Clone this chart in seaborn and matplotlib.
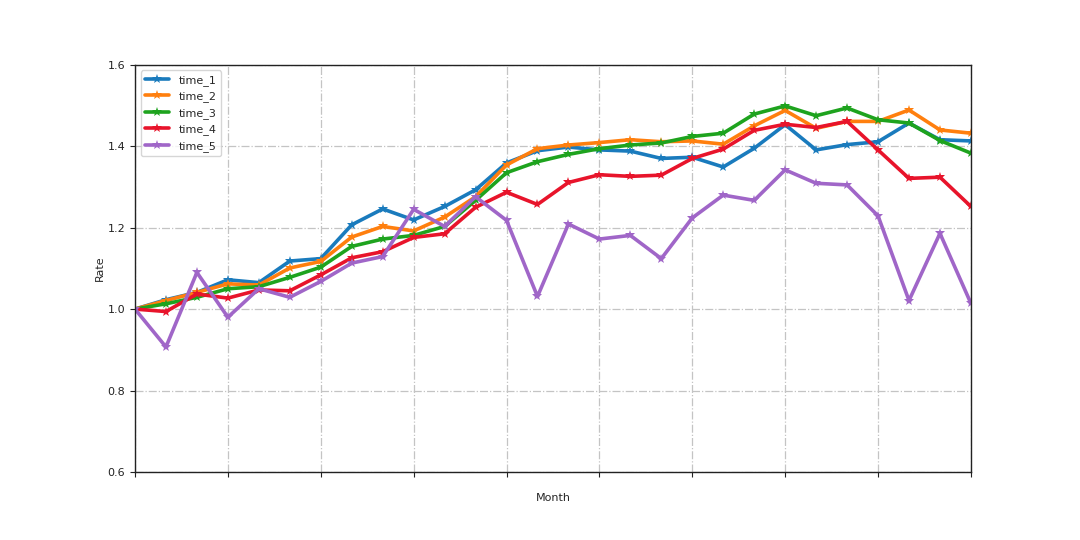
import numpy as np
import pandas as pd
import matplotlib
matplotlib.use("Agg")
import matplotlib.pyplot as plt
import seaborn as sns

months = list(range(28))
time_1 = [1.000, 1.023, 1.041, 1.072, 1.065, 1.118, 1.124, 1.207, 1.246, 1.219,
          1.252, 1.293, 1.359, 1.389, 1.398, 1.391, 1.388, 1.370, 1.373, 1.349,
          1.395, 1.453, 1.391, 1.404, 1.411, 1.457, 1.416, 1.413]
time_2 = [1.000, 1.021, 1.041, 1.062, 1.059, 1.101, 1.117, 1.177, 1.203, 1.192,
          1.226, 1.276, 1.354, 1.394, 1.403, 1.409, 1.416, 1.411, 1.413, 1.405,
          1.450, 1.488, 1.444, 1.461, 1.461, 1.489, 1.440, 1.432]
time_3 = [1.000, 1.013, 1.029, 1.050, 1.055, 1.078, 1.103, 1.154, 1.172, 1.181,
          1.203, 1.267, 1.335, 1.362, 1.380, 1.394, 1.403, 1.408, 1.424, 1.432,
          1.479, 1.499, 1.475, 1.494, 1.465, 1.457, 1.414, 1.383]
time_4 = [1.000, 0.994, 1.037, 1.027, 1.047, 1.045, 1.084, 1.126, 1.141, 1.176,
          1.185, 1.250, 1.287, 1.257, 1.311, 1.330, 1.326, 1.329, 1.370, 1.393,
          1.439, 1.454, 1.446, 1.461, 1.391, 1.321, 1.324, 1.252]
time_5 = [1.000, 0.907, 1.090, 0.980, 1.050, 1.029, 1.068, 1.113, 1.129, 1.245,
          1.203, 1.276, 1.218, 1.031, 1.209, 1.172, 1.181, 1.124, 1.224, 1.280,
          1.267, 1.342, 1.309, 1.305, 1.229, 1.021, 1.186, 1.014]
series_names = ["time_1", "time_2", "time_3", "time_4", "time_5"]
colors = ["#1a7bbd", "#ff7f0e", "#1ea31e", "#e8142b", "#a066c8"]

series = [time_1, time_2, time_3, time_4, time_5]
df = pd.DataFrame({
    "Month": np.tile(months, len(series)),
    "Rate": np.concatenate(series),
    "series": np.repeat(series_names, len(months)),
})

sns.set_style("white")
fig = plt.figure(figsize=(10.8, 5.4), dpi=100)
ax = fig.add_axes([0.125, 0.126, 0.774, 0.754])
sns.lineplot(data=df, x="Month", y="Rate", hue="series", palette=colors,
             marker="*", markersize=7, markeredgewidth=0, linewidth=2.6, ax=ax)

ax.set_xlim(0, 27)
ax.set_ylim(0.6, 1.6)
ax.set_xticks(range(0, 28, 3))
ax.set_xticklabels([])
ax.set_yticks([0.6, 0.8, 1.0, 1.2, 1.4, 1.6])
ax.tick_params(axis="both", direction="out", length=3.5, width=0.8, colors="#222222",
               labelsize=8, bottom=True, left=True)
ax.grid(True, linestyle="-.", color="#c4c4c4", linewidth=0.9)
for s in ax.spines.values():
    s.set_color("#222222")
    s.set_linewidth(1.0)
ax.set_xlabel("Month", fontsize=8, labelpad=8)
ax.set_ylabel("Rate", fontsize=8, labelpad=2)
leg = ax.legend(loc="upper left", fontsize=8, frameon=True, handlelength=2.2)
for line in leg.get_lines():
    line.set_linewidth(2.6)

fig.savefig("out.png", dpi=100)
